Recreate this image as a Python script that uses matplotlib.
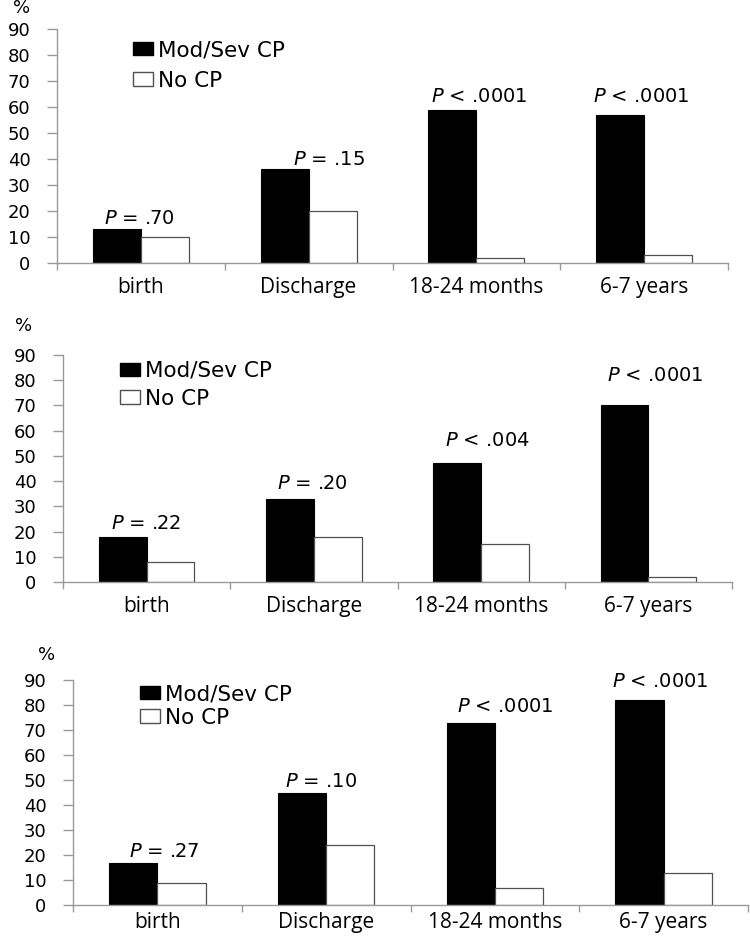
import matplotlib
matplotlib.use("Agg")
import matplotlib.pyplot as plt
from matplotlib.patches import Patch
import numpy as np

categories = ["birth", "Discharge", "18-24 months", "6-7 years"]
series_names = ["Mod/Sev CP", "No CP"]

# Panel 1
p1_sev = [13, 36, 59, 57]
p1_no = [10, 20, 2, 3]
p1_labels = ["= .70", "= .15", "< .0001", "< .0001"]
# Panel 2
p2_sev = [18, 33, 47, 70]
p2_no = [8, 18, 15, 2]
p2_labels = ["= .22", "= .20", "< .004", "< .0001"]
# Panel 3
p3_sev = [17, 45, 73, 82]
p3_no = [9, 24, 7, 13]
p3_labels = ["= .27", "= .10", "< .0001", "< .0001"]

yticks = list(range(0, 100, 10))

W, H = 750, 938
fig = plt.figure(figsize=(W / 100, H / 100), dpi=100)

NUM_FONT = "DejaVu Sans"
CAT_FONT = "Open Sans"
GRAY = "#9a9a9a"

panels = [
    # sev, no, labels, axes rect px (left, right, bottom_y, top_y), label x offsets, label y centers,
    # legend top-left px, legend spacing, percent sign px, category label pad
    (p1_sev, p1_no, p1_labels, (57, 728, 263, 29), [-0.01, 0.12, 0.02, -0.02],
     [17.2, 40.0, 64.0, 64.0], (133, 40), 0.50, (22, 8), 10),
    (p2_sev, p2_no, p2_labels, (63, 732, 582, 355), [0.0, -0.01, 0.04, 0.04],
     [23.0, 39.0, 56.0, 82.0], (120, 361), 0.36, (24, 326), 10),
    (p3_sev, p3_no, p3_labels, (73, 748, 905, 680), [0.04, -0.03, 0.06, -0.02],
     [21.6, 49.6, 79.6, 89.3], (140, 684), 0.17, (47, 655), 5),
]

bw = 0.286
x = np.arange(len(categories))

for sev, no, labs, (l, r, b, t), dx, ly, (lgx, lgy), lsp, (px, py), cpad in panels:
    ax = fig.add_axes([l / W, (H - b) / H, (r - l) / W, (b - t) / H])
    ax.bar(x - bw / 2, sev, width=bw, color="black", edgecolor="black", linewidth=0.8)
    ax.bar(x + bw / 2, no, width=bw, color="white", edgecolor="#505050", linewidth=0.9)
    ax.set_xlim(-0.5, len(categories) - 0.5)
    ax.set_ylim(0, 90)
    ax.set_yticks(yticks)
    ax.set_yticklabels([str(v) for v in yticks], fontsize=13, family=NUM_FONT)
    ax.set_xticks(np.arange(-0.5, len(categories) + 0.5, 1.0))
    ax.set_xticklabels([])
    ax.set_xticks(x, minor=True)
    ax.set_xticklabels(categories, minor=True, fontsize=15, family=CAT_FONT)
    ax.tick_params(axis="x", which="minor", length=0, pad=cpad)
    ax.tick_params(axis="x", which="major", length=5, color=GRAY, width=1)
    ax.tick_params(axis="y", length=7, color=GRAY, width=1, pad=12)
    for s in ["top", "right"]:
        ax.spines[s].set_visible(False)
    for s in ["left", "bottom"]:
        ax.spines[s].set_color(GRAY)
        ax.spines[s].set_linewidth(1)
    for i, (lab, d, yy) in enumerate(zip(labs, dx, ly)):
        ax.text(x[i] + d, yy, "$P$ " + lab, ha="center", va="center",
                fontsize=14, family=NUM_FONT)
    handles = [Patch(facecolor="black", edgecolor="black", label=series_names[0]),
               Patch(facecolor="white", edgecolor="#505050", label=series_names[1])]
    fig.legend(handles=handles, loc="upper left",
               bbox_to_anchor=(lgx / W, (H - lgy) / H), frameon=False,
               handlelength=0.93, handleheight=0.6, handletextpad=0.23,
               labelspacing=lsp, borderpad=0, borderaxespad=0,
               prop={"family": NUM_FONT, "size": 15.5})
    fig.text(px / W, (H - py) / H, "%", ha="center", va="center", fontsize=13, family=NUM_FONT)

fig.savefig("out.png", dpi=100)
